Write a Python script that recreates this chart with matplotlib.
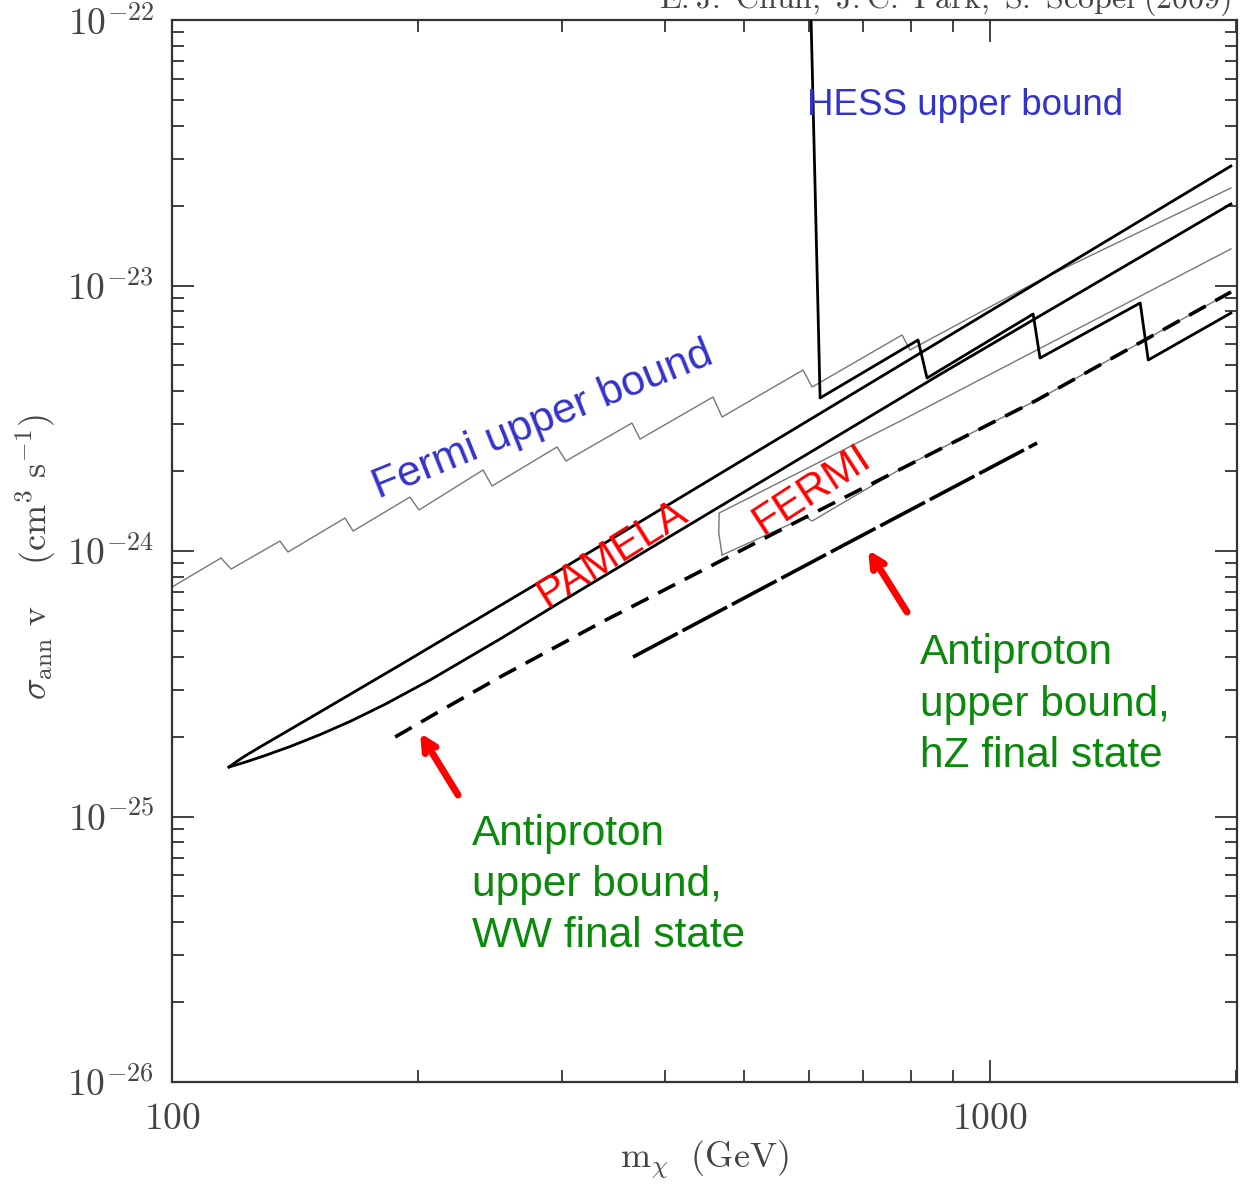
import matplotlib
matplotlib.use("Agg")
import matplotlib.pyplot as plt
from matplotlib.ticker import LogLocator, NullFormatter, FixedLocator

plt.rcParams['mathtext.fontset'] = 'cm'

# ---------------- data ----------------
# Fermi upper bound (thin grey sawtooth)
fermi_ub_m = [100, 114.8, 118.1, 135.5, 138.6, 162.7, 166.5, 195.4, 200.4, 240.0, 246.2,
              295.6, 303.1, 365.0, 373.4, 458.5, 470.4, 590.8, 606.0, 780.6, 798.4, 1151, 1970]
fermi_ub_s = [7.316e-25, 9.410e-25, 8.552e-25, 1.090e-24, 9.913e-25, 1.331e-24, 1.189e-24,
              1.597e-24, 1.427e-24, 2.019e-24, 1.757e-24, 2.465e-24, 2.183e-24, 3.034e-24,
              2.640e-24, 3.802e-24, 3.197e-24, 4.805e-24, 4.146e-24, 6.510e-24, 5.715e-24,
              1.049e-23, 2.330e-23]

# HESS upper bound (thick black)
hess_m = [604.3, 619.8, 816.6, 837.5, 1129, 1151, 1526, 1561, 1970]
hess_s = [1.0e-22, 3.770e-24, 6.233e-24, 4.483e-24, 7.809e-24, 5.331e-24, 8.594e-24,
          5.240e-24, 7.875e-24]

# PAMELA region (thick black closed contour: upper and lower edges meeting at the tip)
pamela_up_m = [117.4, 119.7, 122.8, 128.1, 139.4, 156.1, 190.0, 298.1, 1970]
pamela_up_s = [1.536e-25, 1.604e-25, 1.690e-25, 1.827e-25, 2.126e-25, 2.607e-25, 3.720e-25,
               8.48e-25, 2.818e-23]
pamela_lo_m = [117.4, 122.8, 129.9, 139.4, 151.7, 165.1, 182.2, 206.8, 251.8, 298.1, 868.7, 1970]
pamela_lo_s = [1.536e-25, 1.601e-25, 1.696e-25, 1.834e-25, 2.034e-25, 2.281e-25, 2.647e-25,
               3.267e-25, 4.662e-25, 6.403e-25, 4.624e-24, 2.028e-23]

# FERMI region (thin grey contour)
fermi_up_m = [470.4, 466.0, 466.5, 802.9, 1970]
fermi_up_s = [9.658e-25, 1.17e-24, 1.390e-24, 3.252e-24, 1.373e-23]
fermi_lo_m = [470.4, 595.7, 606.0, 785.1, 1141.5, 1970]
fermi_lo_s = [9.658e-25, 1.343e-24, 1.297e-24, 2.073e-24, 3.704e-24, 9.452e-24]

# Antiproton bound, WW final state (short dashes)
ww_m = [187.4, 212.7, 251.8, 333.7, 585.8, 1141.5, 1970]
ww_s = [1.993e-25, 2.497e-25, 3.353e-25, 5.356e-25, 1.308e-24, 3.704e-24, 9.452e-24]

# Antiproton bound, hZ final state (long dashes)
hz_m = [366.1, 655.8, 1141.5]
hz_s = [3.988e-25, 1.035e-24, 2.551e-24]

x_major = [100, 1000]
x_major_labels = [r'$100$', r'$1000$']
y_major = [1e-26, 1e-25, 1e-24, 1e-23, 1e-22]
y_major_labels = [r'$10^{-26}$', r'$10^{-25}$', r'$10^{-24}$', r'$10^{-23}$', r'$10^{-22}$']

# ---------------- figure ----------------
W, H = 1241, 1193
fig = plt.figure(figsize=(W / 100, H / 100), dpi=100)
ax = fig.add_axes([172 / W, 1 - 1082 / H, (1237 - 172) / W, (1082 - 20) / H])
ax.set_xscale('log')
ax.set_yscale('log')
ax.set_xlim(100, 2004)
ax.set_ylim(1e-26, 1e-22)

axcol = '#333333'
for sp in ax.spines.values():
    sp.set_color(axcol)
    sp.set_linewidth(1.6)

ax.xaxis.set_major_locator(FixedLocator(x_major))
ax.set_xticklabels(x_major_labels)
ax.yaxis.set_major_locator(FixedLocator(y_major))
ax.set_yticklabels(y_major_labels)
ax.xaxis.set_minor_locator(LogLocator(base=10, subs=range(2, 10), numticks=20))
ax.yaxis.set_minor_locator(LogLocator(base=10, subs=range(2, 10), numticks=20))
ax.xaxis.set_minor_formatter(NullFormatter())
ax.yaxis.set_minor_formatter(NullFormatter())
ax.tick_params(which='both', direction='in', top=True, right=True, color=axcol, width=1.3,
               labelsize=27, labelcolor='#444444')
ax.tick_params(which='major', length=16)
ax.tick_params(which='minor', length=8.5)
ax.tick_params(axis='y', pad=13)
ax.tick_params(axis='x', pad=14)

# curves
gray = '#777777'
ax.plot(fermi_ub_m, fermi_ub_s, color=gray, lw=1.0, zorder=2)
ax.plot(fermi_up_m, fermi_up_s, color=gray, lw=1.0, zorder=2)
ax.plot(fermi_lo_m, fermi_lo_s, color=gray, lw=1.0, zorder=2)

ax.plot(pamela_up_m, pamela_up_s, color='black', lw=2.0, zorder=3, solid_joinstyle='round')
ax.plot(pamela_lo_m, pamela_lo_s, color='black', lw=2.0, zorder=3, solid_joinstyle='round')
ax.plot(hess_m, hess_s, color='black', lw=2.0, zorder=3)

ax.plot(ww_m, ww_s, color='black', lw=2.6, zorder=3, dashes=(5.3, 3.0))
ax.plot(hz_m, hz_s, color='black', lw=2.6, zorder=3, dashes=(14, 1.5))

# annotations
blue = '#3333cc'
red = '#ff0000'
green = '#0a8a0a'
sans = 'Liberation Sans'
ax.text(597.4, 4.78e-23, 'HESS upper bound', color=blue, fontsize=26.5, family=sans,
        ha='left', va='center')
ax.text(284.1, 3.114e-24, 'Fermi upper bound', color=blue, fontsize=31, family=sans,
        ha='center', va='center', rotation=22, rotation_mode='anchor')
ax.text(345.1, 9.74e-25, 'PAMELA', color=red, fontsize=30.5, family=sans,
        ha='center', va='center', rotation=32, rotation_mode='anchor', zorder=5)
ax.text(606.0, 1.697e-24, 'FERMI', color=red, fontsize=30.5, family=sans,
        ha='center', va='center', rotation=33, rotation_mode='anchor', zorder=5)
ax.text(821.3, 2.64e-25, 'Antiproton\nupper bound,\nhZ final state', color=green,
        fontsize=30.5, family=sans, ha='left', va='center', linespacing=1.36)
ax.text(232.7, 5.52e-26, 'Antiproton\nupper bound,\nWW final state', color=green,
        fontsize=30.5, family=sans, ha='left', va='center', linespacing=1.36)

arrow = dict(arrowstyle='->,head_length=0.9,head_width=0.45', color=red, lw=5,
             shrinkA=0, shrinkB=0)
ax.annotate('', xy=(201.0, 2.063e-25), xytext=(223.7, 1.205e-25), arrowprops=arrow)
ax.annotate('', xy=(709.5, 1.009e-24), xytext=(791.6, 5.890e-25), arrowprops=arrow)

# axis labels and credit
fig.text(704 / W, 1 - 1160 / H, r'$\mathrm{m}_\chi\ \ (\mathrm{GeV})$', fontsize=26,
         color='#444444', ha='center', va='center')
fig.text(36 / W, 1 - 557 / H, r'$\sigma_{\mathrm{ann}}\ \mathrm{v}\ \ \ \ (\mathrm{cm}^3\ \mathrm{s}^{-1})$',
         fontsize=26, color='#444444', ha='center', va='center', rotation=90)
fig.text(1231 / W, 1 - 8 / H, r'$\mathrm{E.J.\ Chun,\ J.C.\ Park,\ S.\ Scopel\ (2009)}$',
         fontsize=23, color='#444444', ha='right', va='baseline')

fig.savefig('out.png', dpi=100)
